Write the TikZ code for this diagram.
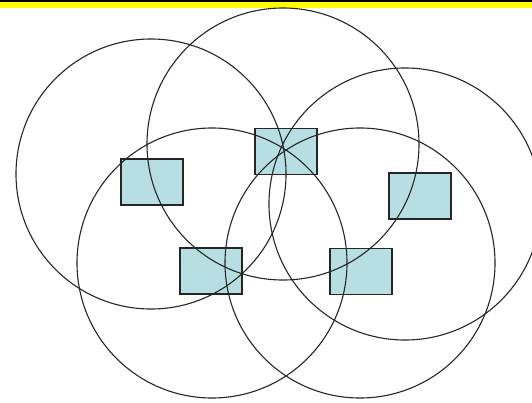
\documentclass[tikz,border=0pt]{standalone}
\definecolor{cellfill}{RGB}{183,223,227}
\definecolor{barline}{RGB}{255,255,0}
\begin{document}
\begin{tikzpicture}[x=1pt,y=-1pt,
  cell/.style={draw=black!85,line width=1.5pt,fill=cellfill,minimum width=62pt,minimum height=46pt,inner sep=0pt},
  coverring/.style={draw=black!85,line width=1.1pt}]
  \useasboundingbox (0,0) rectangle (532,402);
  \clip (0,0) rectangle (532,402);
  \fill[white] (0,0) rectangle (532,402);
  % top bar
  \fill[barline] (0,2) rectangle (532,7.5);
  \fill[black] (0,0) rectangle (532,2);
  % cells
  \foreach \name/\cx/\cy in {cellA/152/182,cellB/286/151.5,cellC/211/271,cellD/361/271.5,cellE/420/196}{
    \node[cell] (\name) at (\cx,\cy) {};
  }
  % coverage circles
  \foreach \cx/\cy/\rad in {151/174/135,283/144/136,405/204/136,212/263/135,360/263/135}{
    \draw[coverring] (\cx,\cy) circle (\rad pt);
  }
\end{tikzpicture}
\end{document}
